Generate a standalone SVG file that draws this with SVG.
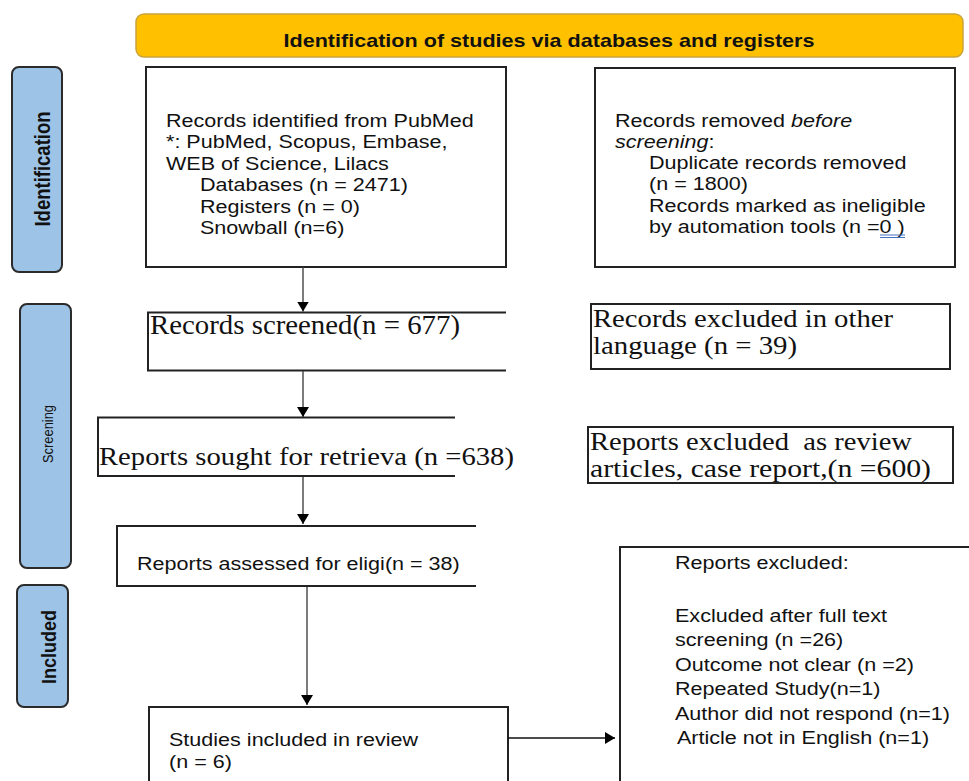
<svg xmlns="http://www.w3.org/2000/svg" width="969" height="781" viewBox="0 0 969 781">
<defs>
<style>
.a{font-family:"Liberation Sans",Arial,sans-serif;font-size:18.5px;fill:#111}
.t{font-family:"Liberation Serif","Times New Roman",serif;fill:#111;white-space:pre}
.box{fill:#fff;stroke:#222;stroke-width:2}
.open{fill:none;stroke:#222;stroke-width:2}
.side{fill:#9DC3E6;stroke:#2b2b2b;stroke-width:2}
.sl{font-family:"Liberation Sans",Arial,sans-serif;font-weight:bold;fill:#111}
.con{fill:none;stroke:#444;stroke-width:1.4}
</style>
<marker id="ah" viewBox="0 0 10 12" refX="10" refY="6" markerWidth="10" markerHeight="12" orient="auto" markerUnits="userSpaceOnUse"><path d="M0,0 L10,6 L0,12 z" fill="#000"/></marker>
</defs>
<rect width="969" height="781" fill="#fff"/>

<g id="banner">
<rect x="136" y="14" width="827" height="43" rx="8" fill="#FFC000" stroke="#C9A43A" stroke-width="1.5"/>
<text class="sl" x="549" y="47" font-size="19" text-anchor="middle" textLength="531" lengthAdjust="spacingAndGlyphs">Identification of studies via databases and registers</text>
</g>

<g id="side-identification">
<rect class="side" x="12" y="67" width="50" height="205" rx="7"/>
<text class="sl" font-size="18.5" text-anchor="middle" transform="translate(49.5,169) scale(1.165,1) rotate(-90)" x="0" y="0">Identification</text>
</g>
<g id="side-screening">
<rect class="side" x="20" y="304" width="51" height="264" rx="7"/>
<text class="sl" font-size="13" text-anchor="middle" transform="translate(53,434) scale(1.165,1) rotate(-90)" x="0" y="0" textLength="58" lengthAdjust="spacingAndGlyphs" style="font-weight:normal">Screening</text>
</g>
<g id="side-included">
<rect class="side" x="17" y="585" width="51" height="122" rx="7"/>
<text class="sl" font-size="18" text-anchor="middle" transform="translate(55.5,647) scale(1.165,1) rotate(-90)" x="0" y="0">Included</text>
</g>

<g id="records-identified">
<rect class="box" x="146" y="67" width="360" height="200"/>
<g transform="translate(166,0) scale(1.165,1)">
<text class="a">
<tspan x="0" y="127">Records identified from PubMed</tspan>
<tspan x="0" y="148.5">*: PubMed, Scopus, Embase,</tspan>
<tspan x="0" y="170">WEB of Science, Lilacs</tspan>
<tspan x="29.2" y="191.5">Databases (n = 2471)</tspan>
<tspan x="29.2" y="213">Registers (n = 0)</tspan>
<tspan x="29.2" y="234.5">Snowball (n=6)</tspan>
</text>
</g>
</g>

<g id="records-removed">
<rect class="box" x="595" y="68" width="360" height="199"/>
<g transform="translate(615,0) scale(1.165,1)">
<text class="a">
<tspan x="0" y="127">Records removed <tspan font-style="italic">before</tspan></tspan>
<tspan x="0" y="148" font-style="italic">screening<tspan font-style="normal">:</tspan></tspan>
<tspan x="29.2" y="169.5">Duplicate records removed</tspan>
<tspan x="29.2" y="190.5">(n = 1800)</tspan>
<tspan x="29.2" y="212">Records marked as ineligible</tspan>
<tspan x="29.2" y="233">by automation tools (n =0 )</tspan>
</text>
</g>
<line x1="880" y1="235" x2="905" y2="235" stroke="#4472C4" stroke-width="1"/>
<line x1="880" y1="237.5" x2="905" y2="237.5" stroke="#4472C4" stroke-width="1"/>
</g>

<g id="records-screened">
<path class="open" d="M506,312.5 H148 V370.5 H506"/>
<text class="t" x="150" y="334" font-size="26.5" textLength="310" lengthAdjust="spacingAndGlyphs">Records screened(n = 677)</text>
</g>

<g id="records-excluded-language">
<rect class="box" x="591" y="304" width="359" height="65"/>
<text class="t" font-size="25">
<tspan x="593" y="327" textLength="300" lengthAdjust="spacingAndGlyphs">Records excluded in other</tspan>
<tspan x="593" y="353.5" textLength="204" lengthAdjust="spacingAndGlyphs">language (n = 39)</tspan>
</text>
</g>

<g id="reports-sought">
<path class="open" d="M455,417.5 H98 V476 H455"/>
<text class="t" x="99" y="465" font-size="25" textLength="415" lengthAdjust="spacingAndGlyphs">Reports sought for retrieva (n =638)</text>
</g>

<g id="reports-excluded-review">
<rect class="box" x="588" y="427" width="365" height="56"/>
<text class="t" font-size="25">
<tspan x="590" y="449.5" textLength="322" lengthAdjust="spacingAndGlyphs">Reports excluded  as review</tspan>
<tspan x="590" y="477" textLength="341" lengthAdjust="spacingAndGlyphs">articles, case report,(n =600)</tspan>
</text>
</g>

<g id="reports-assessed">
<path class="open" d="M476,526 H117 V586 H476"/>
<g transform="translate(137,0) scale(1.165,1)">
<text class="a" x="0" y="570">Reports assessed for eligi(n = 38)</text>
</g>
</g>

<g id="studies-included">
<rect class="box" x="149" y="707" width="359" height="90"/>
<g transform="translate(169,0) scale(1.165,1)">
<text class="a"><tspan x="0" y="746">Studies included in review</tspan><tspan x="0" y="768">(n = 6)</tspan></text>
</g>
</g>

<g id="reports-excluded">
<rect class="box" x="620" y="547" width="360" height="250"/>
<g transform="translate(675,0) scale(1.165,1)">
<text class="a">
<tspan x="0" y="569">Reports excluded:</tspan>
<tspan x="0" y="622">Excluded after full text</tspan>
<tspan x="0" y="646.5">screening (n =26)</tspan>
<tspan x="0" y="671">Outcome not clear (n =2)</tspan>
<tspan x="0" y="695.5">Repeated Study(n=1)</tspan>
<tspan x="0" y="720">Author did not respond (n=1)</tspan>
<tspan x="1.7" y="744.5">Article not in English (n=1)</tspan>
</text>
</g>
</g>

<g id="connectors">
<line class="con" x1="303" y1="267" x2="303" y2="311.5" marker-end="url(#ah)"/>
<line class="con" x1="303" y1="371" x2="303" y2="417" marker-end="url(#ah)"/>
<line class="con" x1="303" y1="477" x2="303" y2="524" marker-end="url(#ah)"/>
<line class="con" x1="307" y1="587" x2="307" y2="705" marker-end="url(#ah)"/>
<line class="con" x1="508" y1="738" x2="615" y2="738" marker-end="url(#ah)" style="stroke:#111"/>
</g>
</svg>
